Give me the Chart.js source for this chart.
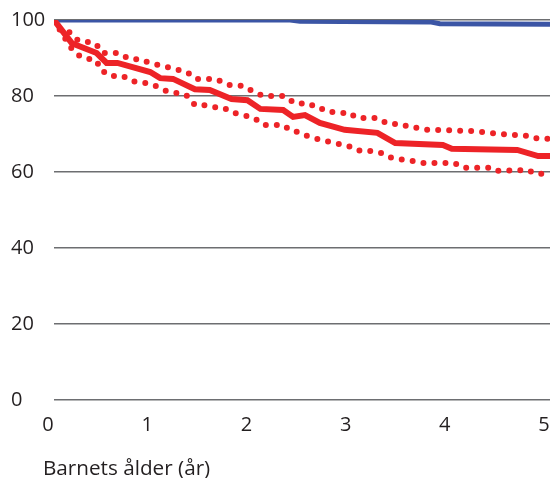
<!DOCTYPE html>
<html><head><meta charset="utf-8">
<script src="https://cdn.jsdelivr.net/npm/chart.js@4/dist/chart.umd.min.js"></script>
<style>html,body{margin:0;padding:0;background:#fff;}</style>
</head><body>
<canvas id="c" width="550" height="478"></canvas>
<script>
const xAxisTitle = 'Barnets ålder (år)';
const xTickValues = [0, 1, 2, 3, 4, 5];
const yTickValues = [0, 20, 40, 60, 80, 100];

// Blue line
const blueX = [0, 2.38, 2.48, 3.79, 3.89, 5];
const blueY = [100, 100, 99.7, 99.5, 99.0, 98.9];

// Red solid line (estimate)
const redX = [0, 0.18, 0.43, 0.53, 0.64, 0.97, 1.07, 1.2, 1.42, 1.57, 1.79, 1.95, 2.08, 2.31, 2.41, 2.53, 2.68, 2.93, 3.26, 3.44, 3.92, 4.01, 4.67, 4.88, 5];
const redY = [100, 93.9, 91.3, 88.7, 88.7, 86.3, 84.7, 84.5, 81.8, 81.6, 79.2, 78.9, 76.6, 76.3, 74.5, 75.0, 72.9, 71.1, 70.3, 67.6, 67.1, 66.1, 65.8, 64.2, 64.2];

// Upper dotted (confidence bound)
const upperX = [0, 0.08, 0.16, 0.24, 0.32, 0.39, 0.45, 0.49, 0.65, 0.76, 0.87, 0.96, 1.05, 1.14, 1.34, 1.43, 1.63, 1.76, 1.92, 2.01, 2.11, 2.30, 2.37, 2.46, 2.52, 2.60, 2.66, 2.73, 2.79, 2.93, 2.97, 3.04, 3.10, 3.26, 3.33, 3.38, 3.51, 3.58, 3.66, 3.76, 4.22, 4.50, 4.77, 4.82, 5];
const upperY = [100, 96.8, 96.8, 94.7, 94.2, 94.2, 92.9, 91.3, 91.3, 89.7, 89.7, 88.7, 88.2, 87.6, 86.3, 84.5, 84.5, 82.9, 82.6, 81.1, 80.0, 80.0, 78.7, 78.7, 77.6, 77.6, 76.6, 76.6, 75.8, 75.5, 74.7, 75.0, 74.2, 74.2, 73.2, 72.6, 72.6, 71.8, 71.6, 71.1, 70.8, 70.0, 69.5, 68.9, 68.7];

// Lower dotted (confidence bound)
const lowerX = [0, 0.14, 0.20, 0.29, 0.42, 0.49, 0.55, 0.62, 0.73, 0.82, 0.94, 1.03, 1.15, 1.31, 1.36, 1.42, 1.51, 1.59, 1.72, 1.77, 1.86, 1.95, 2.02, 2.11, 2.31, 2.39, 2.47, 2.55, 2.62, 2.70, 2.78, 2.87, 2.94, 3.02, 3.09, 3.22, 3.30, 3.38, 3.46, 3.62, 3.72, 4.03, 4.09, 4.12, 4.38, 4.43, 4.79, 4.83, 4.92, 5];
const lowerY = [100, 93.9, 91.6, 90.0, 89.5, 86.3, 86.3, 85.0, 85.0, 83.7, 83.4, 82.6, 81.1, 80.5, 79.7, 77.6, 77.6, 77.1, 76.8, 75.8, 75.3, 74.7, 74.2, 72.4, 72.4, 70.8, 70.5, 69.5, 68.9, 68.4, 67.9, 67.4, 66.8, 66.6, 65.5, 65.5, 65.0, 63.9, 63.4, 62.9, 62.4, 62.4, 61.6, 61.1, 61.1, 60.3, 60.5, 59.7, 59.5, 59.2];

const zip = (xs, ys) => xs.map((x, i) => ({x: x, y: ys[i]}));
const RED = '#ed2327';
const BLUE = '#3b55a5';
const FONT = "'Open Sans'";

const titlePlugin = {
  id: 'xTitle',
  afterDraw(chart) {
    const ctx = chart.ctx;
    ctx.save();
    ctx.font = '20.7px ' + FONT;
    ctx.fillStyle = '#231f20';
    ctx.textAlign = 'left';
    ctx.textBaseline = 'alphabetic';
    ctx.fillText(xAxisTitle, 43, 475);
    ctx.restore();
  }
};

new Chart(document.getElementById('c'), {
  type: 'line',
  data: {
    datasets: [
      {data: zip(upperX, upperY), borderColor: RED, borderWidth: 6, borderDash: [0, 11], borderCapStyle: 'round', pointRadius: 0, tension: 0},
      {data: zip(lowerX, lowerY), borderColor: RED, borderWidth: 6, borderDash: [0, 11], borderCapStyle: 'round', pointRadius: 0, tension: 0},
      {data: zip(redX, redY), borderColor: RED, borderWidth: 6, pointRadius: 0, tension: 0, borderJoinStyle: 'miter'},
      {data: zip(blueX, blueY), borderColor: BLUE, borderWidth: 5, pointRadius: 0, tension: 0}
    ]
  },
  options: {
    responsive: false,
    animation: false,
    devicePixelRatio: 1,
    layout: {padding: {left: 11, top: 20, right: 0, bottom: 0}},
    plugins: {legend: {display: false}, tooltip: {enabled: false}},
    scales: {
      x: {
        type: 'linear', min: 0, max: 5,
        afterBuildTicks: s => { s.ticks = xTickValues.map(v => ({value: v})); },
        afterFit: s => { s.height = 78; s.paddingLeft = 0; s.paddingRight = 0; },
        grid: {display: false, drawTicks: false},
        border: {display: false},
        ticks: {color: '#231f20', font: {family: FONT, size: 20}, padding: 13, labelOffset: -6, maxRotation: 0}
      },
      y: {
        min: 0, max: 100,
        afterBuildTicks: s => { s.ticks = yTickValues.map(v => ({value: v})); },
        afterFit: s => { s.width = 43; s.paddingTop = 0; s.paddingBottom = 0; },
        grid: {color: '#6d6e71', lineWidth: 1.5, drawTicks: false},
        border: {display: false},
        ticks: {color: '#231f20', font: {family: FONT, size: 20}, crossAlign: 'far', padding: 0}
      }
    }
  },
  plugins: [titlePlugin]
});
</script>
</body></html>
